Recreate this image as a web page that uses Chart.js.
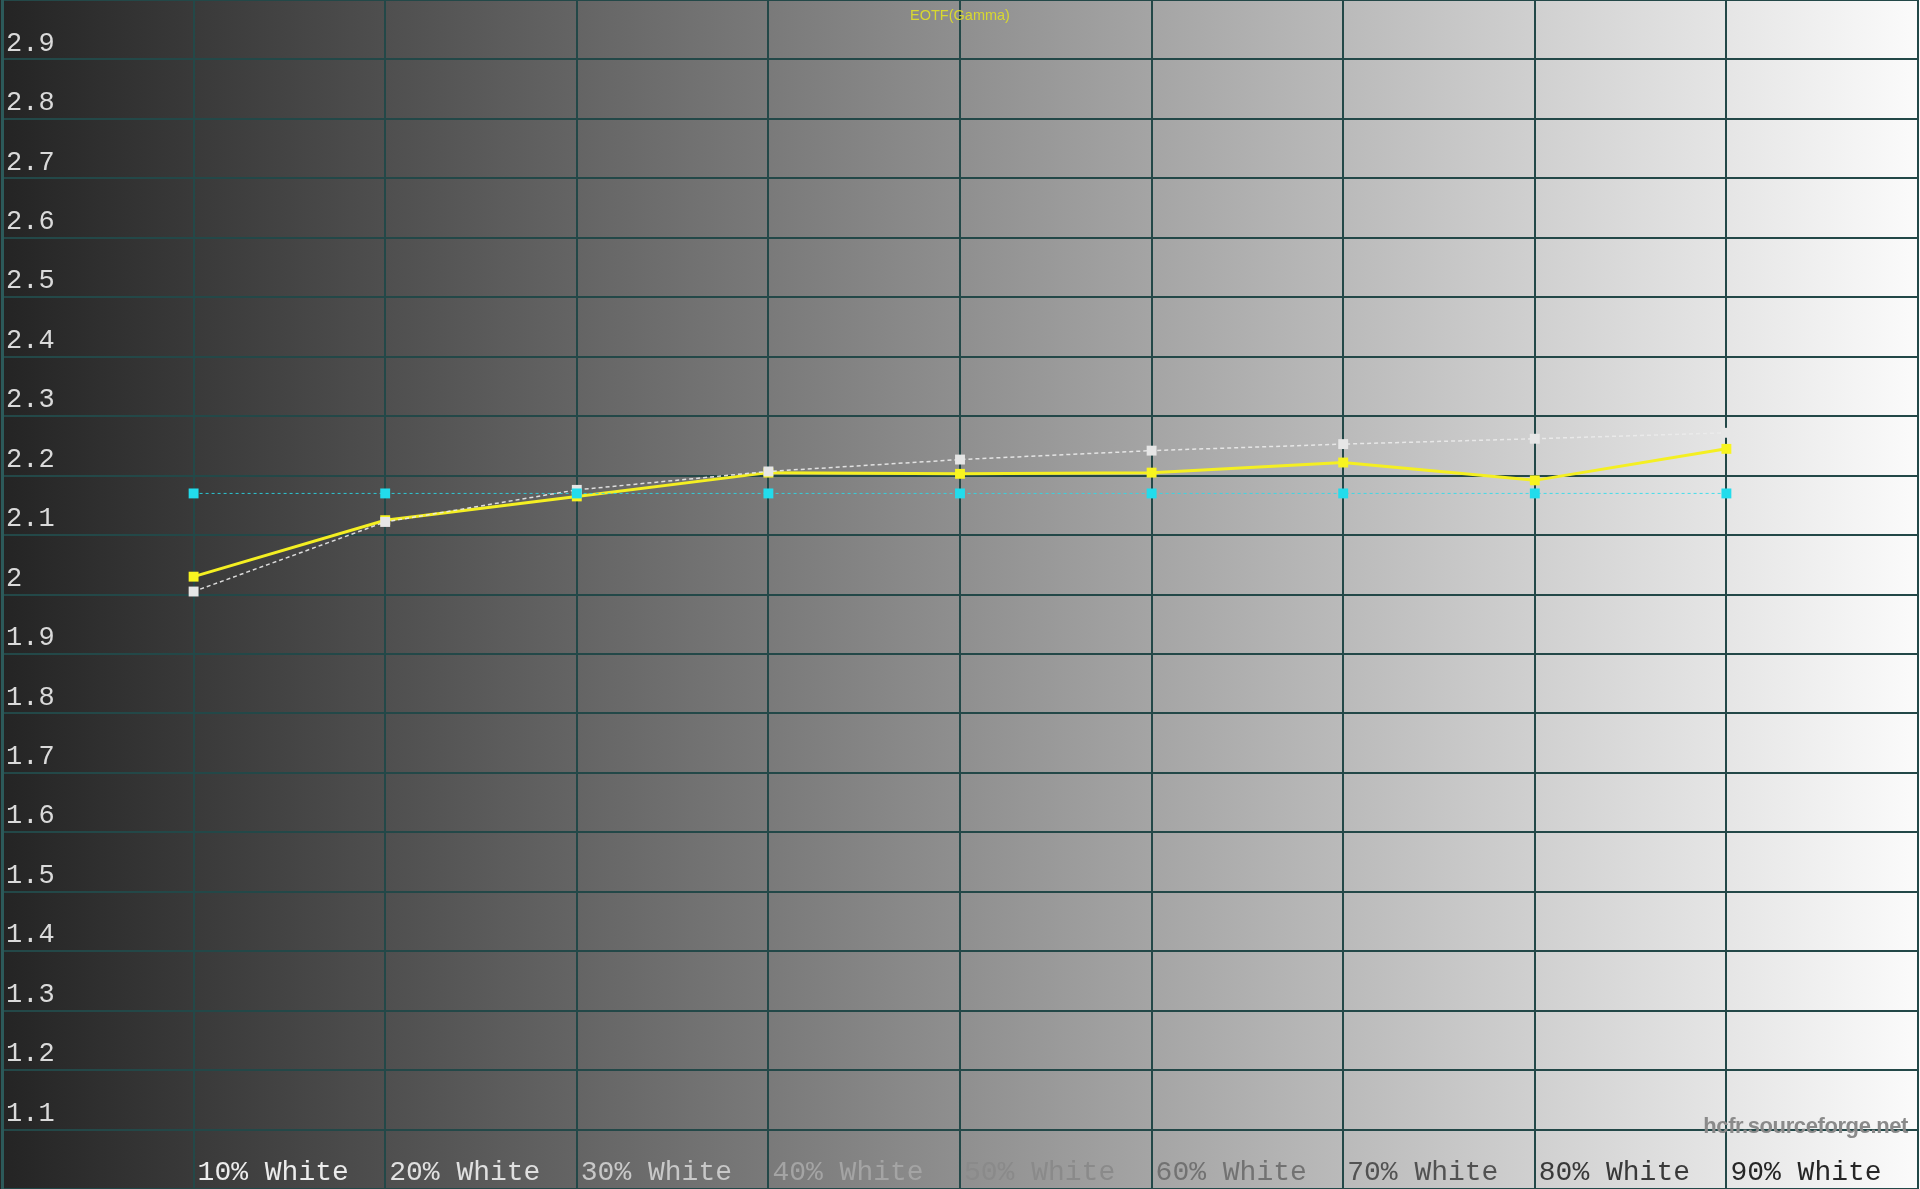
<!DOCTYPE html>
<html>
<head>
<meta charset="utf-8">
<title>EOTF(Gamma)</title>
<script src="https://cdn.jsdelivr.net/npm/chart.js@4/dist/chart.umd.min.js"></script>
<style>
  html, body { margin: 0; padding: 0; background: #262626; overflow: hidden; }
  #wrap { position: relative; width: 1920px; height: 1189px; }
  #watermark {
    position: absolute; right: 12px; top: 1113px;
    font: bold 22px 'Liberation Sans', Arial, sans-serif; color: #8a8a8a;
    letter-spacing: -0.4px;
  }
</style>
</head>
<body>
<div id="wrap">
  <canvas id="gamma"></canvas>
  <div id="watermark">hcfr.sourceforge.net</div>
</div>
<script>
/* ── data ── */
var levels = [10, 20, 30, 40, 50, 60, 70, 80, 90];
var xTickLabels = ['10% White', '20% White', '30% White', '40% White', '50% White',
                   '60% White', '70% White', '80% White', '90% White'];
var gammaMeasured = [2.03, 2.125, 2.165, 2.205, 2.203, 2.205, 2.222, 2.192, 2.245];
var gammaReference = [2.005, 2.122, 2.176, 2.207, 2.227, 2.242, 2.253, 2.262, 2.272];
var gammaTarget = [2.17, 2.17, 2.17, 2.17, 2.17, 2.17, 2.17, 2.17, 2.17];

/* label colours fade from white to black like the backdrop (one per tick, 0..100) */
var xTickColors = ['#ffffff', '#ececec', '#e0e0e0', '#c8c8c8', '#a4a4a4',
                   '#8a8a8a', '#727272', '#525252', '#393939', '#262626', '#222222'];

function _pts(ys) {
  return levels.map(function(x, i) { return {x: x, y: ys[i]}; });
}

var _bgPlugin = {
  id: 'grayRamp',
  beforeDraw: function(chart) {
    var a = chart.chartArea, c = chart.ctx;
    var g = c.createLinearGradient(a.left, 0, a.right, 0);
    g.addColorStop(0, '#242424');
    g.addColorStop(0.5, '#8f8f8f');
    g.addColorStop(1, '#fbfbfb');
    c.save();
    c.fillStyle = g;
    c.fillRect(0, 0, chart.width, chart.height);
    c.restore();
  }
};

var gridColor = '#234848';

new Chart(document.getElementById('gamma'), {
  type: 'scatter',
  data: {datasets: [
    {data: _pts(gammaTarget), showLine: true, borderColor: 'rgba(40,220,235,0.85)', borderWidth: 1,
     borderDash: [3, 3], pointStyle: 'rect', pointRadius: 7, pointBackgroundColor: '#22dcec',
     pointBorderWidth: 0, order: 0},
    {data: _pts(gammaReference), showLine: true, borderColor: 'rgba(235,235,235,0.9)', borderWidth: 1.5,
     borderDash: [4, 3], pointStyle: 'rect', pointRadius: 7, pointBackgroundColor: '#e6e6e6',
     pointBorderWidth: 0, order: 1},
    {data: _pts(gammaMeasured), showLine: true, borderColor: '#f4ef22', borderWidth: 3,
     pointStyle: 'rect', pointRadius: 7, pointBackgroundColor: '#f8f420',
     pointBorderWidth: 0, order: 2}
  ]},
  options: {
    responsive: true, maintainAspectRatio: false, animation: false,
    layout: {padding: {left: 2, right: 2, top: 0, bottom: 0}, autoPadding: false},
    plugins: {
      legend: {display: false},
      tooltip: {enabled: false},
      title: {
        display: true, text: 'EOTF(Gamma)', color: '#d8d830',
        font: {family: "'Liberation Sans', Arial, sans-serif", size: 14.5, weight: 'normal'},
        padding: {top: 7, bottom: -24.4}
      }
    },
    scales: {
      x: {
        type: 'linear', min: 0, max: 100,
        grid: {color: gridColor, lineWidth: 2, drawTicks: false},
        border: {color: gridColor, width: 2},
        ticks: {
          stepSize: 10, align: 'start', labelOffset: 4, padding: 0, mirror: true, maxRotation: 0,
          autoSkip: false,
          color: function(ctx) { return xTickColors[ctx.index]; },
          font: {family: "'Liberation Mono', monospace", size: 28},
          callback: function(v) {
            var i = levels.indexOf(v);
            return i < 0 ? '' : xTickLabels[i];
          }
        },
        afterFit: function(s) { s.height = 0; s.paddingLeft = 0; s.paddingRight = 0; }
      },
      y: {
        min: 1, max: 3,
        grid: {color: gridColor, lineWidth: 2, drawTicks: false},
        border: {color: '#2c5a5a', width: 3},
        ticks: {
          stepSize: 0.1, mirror: true, padding: 4, labelOffset: -16, autoSkip: false,
          color: '#dadada',
          font: {family: "'Liberation Mono', monospace", size: 27},
          callback: function(v) {
            var r = Math.round(v * 10) / 10;
            if (r <= 1 || r >= 3) return '';
            return String(r);
          }
        },
        afterFit: function(s) { s.width = 0; s.paddingTop = 0; s.paddingBottom = 0; }
      }
    }
  },
  plugins: [_bgPlugin]
});
</script>
</body>
</html>
